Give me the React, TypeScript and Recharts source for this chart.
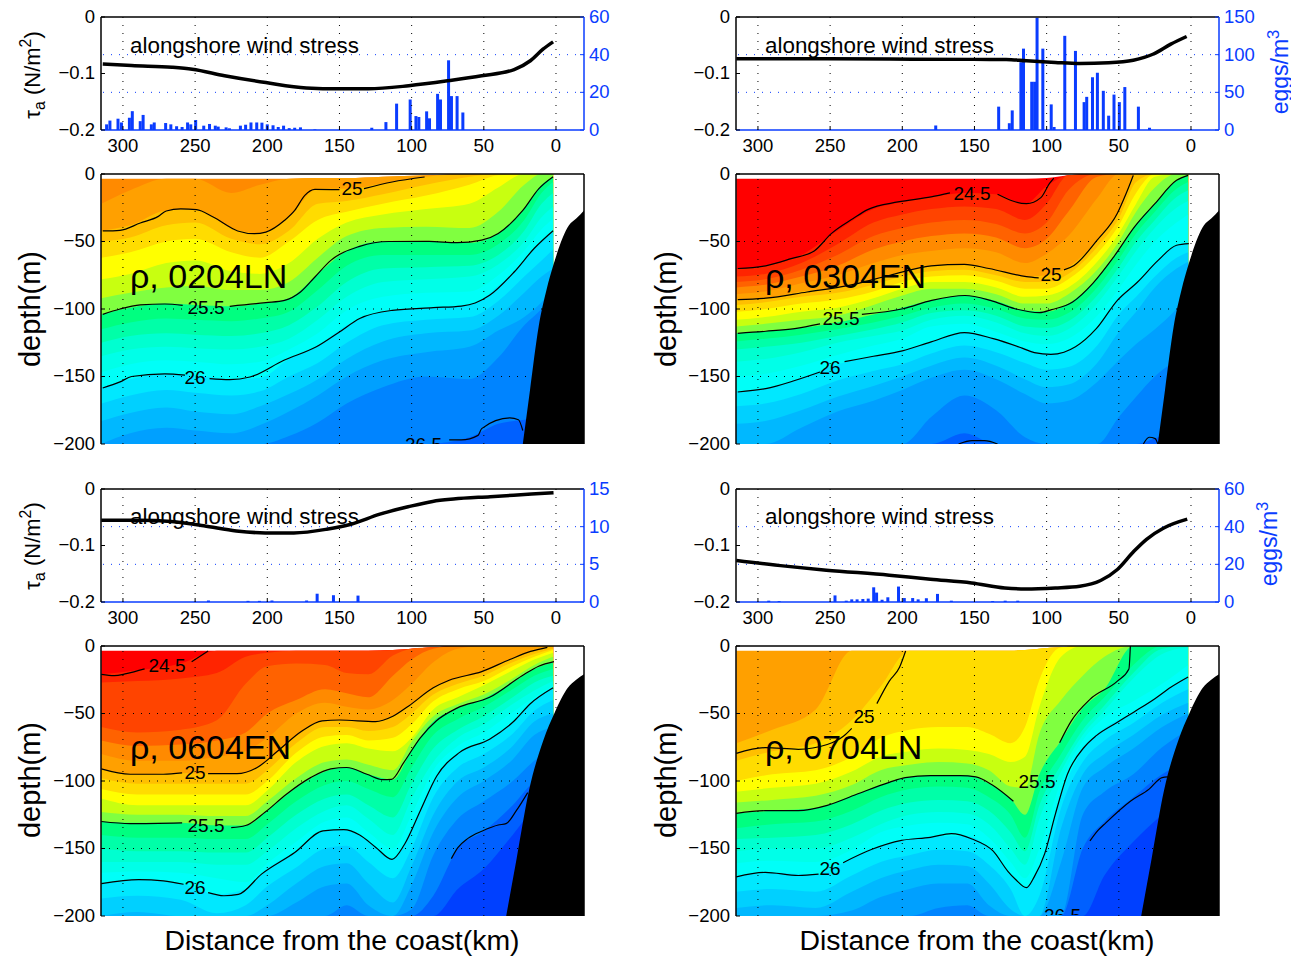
import { Area, Bar, ComposedChart, Line, ReferenceLine, XAxis, YAxis } from "recharts"

const FONT = '"Liberation Sans", Arial, sans-serif'
const BLUE = "#0a3cff"
const DOTS = "1 7"

const xDomain = [-19.4, 315.2]
const xTicks = [0, 50, 100, 150, 200, 250, 300]
const stressTicks = [-0.2, -0.1, 0]
const depthTicks = [-200, -150, -100, -50, 0]

// density level -> colour of the band below it
const bandLevels = [24.4, 24.5, 24.6, 24.7, 24.8, 24.9, 25, 25.1, 25.2, 25.3, 25.4, 25.5, 25.6, 25.7, 25.8, 25.9, 26, 26.1, 26.2, 26.3, 26.4, 26.5, 26.6]
const bandColors = ["#ff0000", "#ff2400", "#ff4400", "#ff6200", "#ff8a00", "#ffa000", "#ffbf00", "#ffdc00", "#ffff00", "#c8ff10", "#80ff40", "#00ff80", "#00ffa8", "#00ffd0", "#00ffe8", "#00fff8", "#00e8ff", "#00d0ff", "#00b8ff", "#00a0ff", "#0084ff", "#0060ff", "#0040ff"]

// bottom topography
const shelfKmNorth = [23, 18, 12, 6.6, 1.4, -9, -14, -19.4]
const shelfDepthNorth = [-200, -160, -113, -86, -66, -38, -33, -27]
const shelfKmSouth = [34.5, 27.2, 18.7, 8.8, 0.8, -8.2, -14, -19.4]
const shelfDepthSouth = [-200, -157, -107, -70, -49, -31, -25, -21]

// ---- 0204LN
const stressKm0204 = [314, 294, 266, 252, 229.6, 201, 173, 150, 130, 102, 74, 51.5, 29, 17.5, 9, 2]
const stress0204 = [-0.083, -0.086, -0.089, -0.0925, -0.104, -0.116, -0.1255, -0.127, -0.127, -0.1217, -0.1126, -0.104, -0.093, -0.077, -0.057, -0.044]
const eggKm0204 = [311.3, 309, 303.4, 301, 295.5, 293.5, 288, 286, 280.3, 278.3, 270.4, 266.8, 262.8, 259, 255.2, 253, 249.6, 244, 240, 236, 234, 228.5, 226.2, 218.6, 215, 211.3, 207.3, 203.7, 200, 196, 192.4, 188.7, 184.8, 181, 177, 167, 127.6, 117.8, 110.4, 101, 97, 95, 89.6, 87.6, 82, 80, 74.4, 72.4, 68.5, 64.5]
const eggs0204 = [3, 5, 6, 4, 6.5, 10, 4.7, 8, 3, 4, 3.7, 3, 2, 1.6, 4, 3, 5.3, 2.3, 3.2, 2.3, 1.8, 1.4, 0.9, 2.3, 2.8, 4, 4, 3.9, 3, 2.5, 1.6, 2.3, 1, 1.2, 1.4, 0.3, 1.2, 4.2, 14, 16.2, 7.4, 6.9, 9.9, 6.2, 19.2, 16.2, 37, 18, 18, 9.3]
const stations0204 = [315, 295, 270, 250, 225, 205, 185, 165, 145, 120, 90, 60, 40, 22, 10, 2]
const levels0204 = [24.8, 24.9, 25, 25.1, 25.2, 25.3, 25.4, 25.5, 25.6, 25.7, 25.8, 25.9, 26, 26.1, 26.2, 26.3, 26.4, 26.5]
const depths0204 = [
  [-3.5, -3.5, -3.5, -3.5, -3.5, -3.5, -3.5, -3, -3, -2, -1, 0, 0, 0, 0, 0],
  [-22, -12, -3.5, -3.5, -14, -8, -3.5, -3, -3, -2, -1, 0, 0, 0, 0, 0],
  [-42, -38, -27, -26, -40, -44, -32, -11, -11, -7, -2, 0, 0, 0, 0, 0],
  [-50, -47, -38, -36, -48, -52, -42, -22, -20, -15, -8, -2, 0, 0, 0, 0],
  [-62, -58, -50, -48, -58, -62, -50, -34, -28, -22, -16, -8, -1, 0, 0, 0],
  [-78, -74, -66, -64, -72, -74, -66, -48, -36, -30, -26, -22, -10, 0, 0, 0],
  [-92, -88, -84, -83, -86, -86, -80, -62, -46, -40, -39, -40, -28, -8, 0, 0],
  [-104, -99, -96, -97, -98, -96, -92, -74, -57, -50, -50, -51, -44, -26, -8, -2],
  [-115, -110, -107, -108, -109, -107, -102, -86, -68, -60, -60, -60, -52, -34, -14, -6],
  [-125, -120, -118, -119, -120, -118, -112, -98, -80, -70, -69, -68, -60, -42, -22, -14],
  [-135, -130, -128, -129, -130, -128, -122, -108, -91, -80, -78, -76, -67, -50, -32, -24],
  [-147, -141, -138, -139, -141, -139, -130, -118, -101, -91, -88, -87, -75, -57, -41, -33],
  [-158, -152, -148, -149, -152, -151, -137, -127, -112, -102, -99, -97, -83, -64, -50, -42],
  [-170, -164, -160, -162, -164, -161, -150, -140, -125, -112, -108, -106, -94, -76, -64, -56],
  [-183, -177, -173, -176, -178, -172, -163, -152, -137, -124, -118, -116, -105, -88, -76, -70],
  [-200, -192, -188, -190, -192, -186, -176, -164, -150, -138, -132, -128, -116, -106, -95, -85],
  [-200, -200, -200, -200, -200, -200, -194, -184, -170, -158, -150, -152, -136, -112, -100, -90],
  [-200, -200, -200, -200, -200, -200, -200, -200, -200, -200, -200, -195, -185, -182, -180, -180],
]
const contours0204 = [
  [[314, -42.2], [302, -41.7], [288, -36.3], [275.5, -31.4], [270, -27.4], [260, -25.9], [249, -26.4], [237.5, -31.9], [220.5, -42.2], [209, -44.2], [201, -43], [188, -34.3], [181, -27], [174, -15.8], [167, -11.4], [150, -11.6]],
  [[133, -10.9], [113.5, -5.9], [91, -2.2]],
  [[314, -104], [302, -100], [288, -97], [271, -96.3], [258.6, -97.3]],
  [[226, -98], [201, -95.3], [188, -93.6], [177, -87.4], [167, -76.3], [156, -64], [136, -53.6], [116, -50], [88, -49.9], [68.5, -50.9], [51.5, -49], [40, -44], [23, -27], [12, -11], [2, -2]],
  [[314, -158.5], [302, -154], [294, -150], [271, -148], [257, -149]],
  [[240, -151.6], [226, -152.3], [212, -150.4], [188.5, -138], [166, -128], [150, -117], [136, -107], [113.5, -101], [85, -99], [65.6, -97.8], [56, -95.6], [46, -89.9], [29, -72.6], [15, -55], [2, -42]],
  [[74, -197], [65.6, -197], [54, -193.6], [51.5, -188.6], [32, -180.7], [26, -182], [23, -190]],
]

// ---- 0304EN
const stressKm0304 = [315, 266, 209, 151, 128, 114, 94, 77, 57, 40, 26, 14, 3]
const stress0304 = [-0.0739, -0.0739, -0.0745, -0.075, -0.075, -0.0775, -0.0805, -0.0823, -0.081, -0.0765, -0.0655, -0.048, -0.0345]
const eggKm0304 = [176.8, 133.2, 125.8, 123.8, 117.8, 116, 110.3, 108.3, 106.6, 102.6, 96.8, 94.8, 87.4, 80, 74, 72.2, 68.2, 64.8, 60.7, 57, 53.3, 49.6, 45.8, 36.4, 28.7]
const eggs0304 = [6, 31, 9, 26, 90, 108, 64, 64, 149, 108, 34, 4, 125, 105, 37, 44, 70, 76, 52, 19, 47, 37, 57, 31, 3]
const stations0304 = [315, 295, 270, 245, 220, 200, 180, 157, 135, 115, 100, 85, 65, 50, 38, 25, 10, 2]
const levels0304 = [24.4, 24.5, 24.6, 24.7, 24.8, 24.9, 25, 25.1, 25.2, 25.3, 25.4, 25.5, 25.6, 25.7, 25.8, 25.9, 26, 26.1, 26.2, 26.3, 26.4, 26.5]
const depths0304 = [
  [-3.5, -3.5, -3.5, -3.5, -3.5, -3.5, -3.5, -3.5, -3.5, -3.5, -3, -1, 0, 0, 0, 0, 0, 0],
  [-70, -68, -60, -42, -26, -21, -17, -14, -15, -22, -9, -1, 0, 0, 0, 0, 0, 0],
  [-76, -74, -66, -52, -36, -30, -26, -24, -26, -34, -22, -1, 0, 0, 0, 0, 0, 0],
  [-80, -78, -71, -60, -46, -40, -36, -34, -37, -44, -36, -12, 0, 0, 0, 0, 0, 0],
  [-84, -82, -76, -68, -56, -50, -46, -44, -47, -55, -48, -28, -2, 0, 0, 0, 0, 0],
  [-89, -87, -81, -75, -66, -60, -57, -55, -58, -66, -59, -46, -18, 0, 0, 0, 0, 0],
  [-93, -92, -87, -84, -78, -72, -68, -67, -71, -76, -75, -69, -49, -28, 0, 0, 0, 0],
  [-97, -95, -91, -88, -82, -76, -72, -71, -75, -80, -80, -74, -54, -33, -6, 0, 0, 0],
  [-102, -100, -96, -93, -87, -80, -76, -75, -79, -85, -85, -78, -59, -38, -14, 0, 0, 0],
  [-108, -106, -102, -99, -92, -85, -80, -80, -84, -91, -90, -84, -65, -44, -22, -2, 0, 0],
  [-113, -111, -108, -105, -97, -90, -85, -85, -89, -96, -96, -89, -71, -50, -28, -10, 0, 0],
  [-118, -116.5, -114, -110, -104, -99, -93.6, -90, -94, -101, -102, -96, -77, -56, -37, -22, -5, -1],
  [-124, -122, -119, -115, -110, -105, -99, -96, -100, -107, -108, -103, -84, -63, -44, -28, -11, -6],
  [-130, -128, -125, -120, -115, -110, -103, -101, -105, -113, -114, -109, -90, -69, -50, -34, -17, -12],
  [-139, -137, -132, -125, -120, -116, -108, -105, -110, -118, -120, -115, -96, -75, -57, -40, -25, -20],
  [-150, -148, -142, -134, -127, -122, -113, -111, -117, -124, -126, -122, -105, -85, -67, -50, -36, -30],
  [-161, -159, -151, -141, -135, -131, -124, -117.5, -122, -129, -133, -131, -115, -92, -81, -66, -53, -51.5],
  [-172, -170, -163, -153, -146, -141, -133, -127, -132, -140, -145, -143, -127, -104, -91, -76, -62, -58],
  [-185, -183, -175, -165, -157, -150, -142, -136, -142, -152, -158, -156, -140, -117, -102, -84, -70, -65],
  [-200, -200, -188, -176, -168, -160, -151, -145, -152, -163, -170, -168, -154, -138, -126, -115, -100, -90],
  [-200, -200, -200, -200, -200, -200, -180, -164, -175, -195, -200, -200, -200, -180, -165, -150, -140, -140],
  [-200, -200, -200, -200, -200, -200, -200, -192, -200, -200, -200, -200, -200, -200, -200, -196, -190, -190],
]
const contours0304 = [
  [[314, -70], [294.6, -68], [277, -62.7], [261, -57], [249, -44], [234, -33], [224, -26.4], [203, -20.7], [180, -17], [167, -14]],
  [[134, -15], [114, -22], [104, -17.5], [98, -7], [95, -3]],
  [[314, -93], [294.6, -92], [266, -87.4], [237, -82.5], [208.6, -75], [180, -68], [157, -67], [140, -70], [114, -76], [105.5, -77]],
  [[88, -71], [81, -67.7], [65, -49], [51, -29], [45, -14.6], [40, -1]],
  [[314, -118], [294.6, -116.5], [274.5, -114.5], [257, -111]],
  [[228, -104], [199.6, -99.8], [179.6, -93.6], [156.6, -90], [139, -93.6], [122, -99.8], [105, -102.7], [96.6, -100.5], [82, -94.8], [68, -81], [53.6, -61.5], [39, -39], [25, -22], [10, -4.7], [2, -1]],
  [[314, -161.5], [294.6, -159], [274.5, -153], [257, -146.7]],
  [[240, -139], [220, -135], [200, -131], [180, -124.4], [157, -117.5], [137, -122], [117, -129], [108.5, -132.3], [97, -133.6], [88, -132], [80, -128], [65.6, -114.6], [51, -93.6], [37, -80], [22.8, -64], [10, -52.8], [1.5, -51.6]],
  [[161, -200], [151.7, -197.5], [143, -197.5], [134, -200]],
  [[33, -200], [29, -195], [24.8, -196], [23, -200]],
]

// ---- 0604EN
const stressKm0604 = [315, 289, 266.5, 244, 221.5, 201.4, 181.6, 158.9, 142, 122, 102.5, 85.5, 71, 45.6, 17, 1.7]
const stress0604 = [-0.0552, -0.0552, -0.0576, -0.065, -0.0742, -0.0777, -0.0777, -0.0712, -0.0623, -0.0445, -0.0315, -0.022, -0.0178, -0.0136, -0.009, -0.0065]
const eggKm0604 = [241, 213.6, 205.7, 197, 173, 165.7, 154.4, 137.4]
const eggs0604 = [0.2, 0.15, 0.15, 0.2, 0.2, 1.1, 0.9, 0.85]
const stations0604 = [315, 290, 260, 235, 215, 200, 180, 160, 145, 130, 113, 100, 85, 68, 50, 30, 15, 2]
const levels0604 = [24.4, 24.5, 24.6, 24.7, 24.8, 24.9, 25, 25.1, 25.2, 25.3, 25.4, 25.5, 25.6, 25.7, 25.8, 25.9, 26, 26.1, 26.2, 26.3, 26.4, 26.5, 26.6]
const depths0604 = [
  [-3.5, -3.5, -3.5, -3.5, -3.5, -3.5, -3.5, -3.5, -3.5, -3.5, -3, -2, -1, 0, 0, 0, 0, 0],
  [-21, -18, -13, -3.5, -3.5, -3.5, -3.5, -3.5, -3.5, -3.5, -3, -2, -1, 0, 0, 0, 0, 0],
  [-27, -26, -24, -20, -8, -5, -3.5, -3.5, -3.5, -3.5, -3, -2, -1, 0, 0, 0, 0, 0],
  [-60, -64, -62, -55, -28, -15, -13, -14, -20, -21, -7, -2, -1, 0, 0, 0, 0, 0],
  [-70, -74, -73, -70, -64, -50, -40, -32, -35, -38, -22, -10, -2, 0, 0, 0, 0, 0],
  [-80, -85, -85, -82, -78, -68, -50, -42, -45, -47, -40, -28, -12, -2, 0, 0, 0, 0],
  [-91, -95, -94, -94.6, -94, -85, -67, -55, -55, -56, -52, -43, -31, -24, -19, -9, -3, 0],
  [-98, -102, -102, -102, -102, -92, -72, -60, -60, -63, -60, -50, -36, -28, -22, -12, -6, -2],
  [-106, -110, -110, -110, -110, -100, -79, -67, -66, -70, -68, -58, -41, -32, -26, -15, -8, -3],
  [-113, -118, -118, -118, -118, -107, -86, -74, -72, -76, -78, -68, -47, -38, -29, -18, -10, -5],
  [-123, -125, -125, -126, -126, -115, -98, -86, -84, -88, -92, -71, -52, -43, -36, -24, -14, -8],
  [-130, -131, -131, -133, -133, -122, -105, -93, -90, -95, -99, -77, -56, -46, -39, -27, -17, -12],
  [-140, -142, -142, -143, -143, -132, -115, -103, -100, -106, -112, -90, -66, -54, -45, -32, -22, -17],
  [-150, -152, -152, -153, -153, -142, -125, -113, -110, -118, -127, -102, -76, -62, -52, -38, -27, -22],
  [-160, -160, -160, -162, -162, -152, -135, -122, -118, -128, -140, -113, -86, -68, -58, -43, -33, -26],
  [-168, -167, -168, -172, -175, -161, -145, -130, -127, -138, -150, -125, -92, -74, -64, -49, -38, -29],
  [-176, -173, -176, -184, -180, -165, -152, -137, -136, -145, -158, -135, -100, -80, -71, -56, -40, -31],
  [-187, -185, -188, -198, -192, -178, -164, -150, -148, -160, -172, -150, -112, -90, -80, -65, -48, -40],
  [-200, -197, -200, -200, -200, -192, -176, -163, -161, -176, -190, -163, -125, -100, -90, -74, -56, -50],
  [-200, -200, -200, -200, -200, -200, -190, -178, -176, -192, -200, -177, -138, -112, -100, -84, -66, -60],
  [-200, -200, -200, -200, -200, -200, -200, -200, -192, -200, -200, -195, -155, -128, -115, -100, -85, -75],
  [-200, -200, -200, -200, -200, -200, -200, -200, -200, -200, -200, -200, -185, -150, -137, -118, -100, -90],
  [-200, -200, -200, -200, -200, -200, -200, -200, -200, -200, -200, -200, -200, -180, -165, -140, -120, -110],
]
const contours0604 = [
  [[315, -21], [306, -22], [297.7, -20.5], [285, -17]],
  [[252.4, -11.6], [241, -3.7]],
  [[315, -91], [295, -95], [272, -95], [259, -94]],
  [[241, -94.6], [221, -94.6], [207, -90], [193, -78], [176, -63], [162, -55.5], [150, -54.8], [125, -56], [113, -52], [102, -44.4], [85, -31], [74, -25.4], [51.5, -19], [32, -10], [17.6, -4], [6, -1]],
  [[315, -130], [295, -131.6], [259, -131]],
  [[225, -134.6], [215, -133], [201.4, -123], [187, -110], [170, -97.5], [156, -91], [145, -90], [131, -95], [120, -99], [114, -98.8], [105.5, -86.4], [94, -68], [83, -55.5], [68.6, -46], [46, -38], [23.5, -22], [12, -15], [1.4, -11.6]],
  [[315, -176], [289, -173], [272, -174], [258, -176.5]],
  [[241, -182.7], [230, -185], [220, -184], [204, -169], [181, -153], [161.4, -137], [147, -136], [136, -140], [125, -149], [113.6, -158], [105, -147], [94, -122], [82.6, -96.3], [67, -79], [46, -69], [29, -55.6], [18, -43], [2, -31]],
  [[72.5, -157.5], [68, -149.4], [61, -142.5], [51, -137], [40, -132.6], [34.6, -131.6], [27.5, -122], [19.6, -108.6]],
]

// ---- 0704LN
const stressKm0704 = [315, 281, 252.6, 209, 180.5, 152, 129, 114.4, 94, 77, 62.6, 51, 39.4, 30.8, 19.2, 2.6]
const stress0704 = [-0.1264, -0.1365, -0.1436, -0.1525, -0.1597, -0.1662, -0.1751, -0.1769, -0.1751, -0.1721, -0.162, -0.1424, -0.1098, -0.089, -0.0694, -0.0534]
const eggKm0704 = [292.5, 285.3, 246.6, 238.8, 235, 231.3, 227.3, 223.6, 219.8, 217.8, 214, 210, 202.6, 198.6, 192.8, 189, 183.3, 175.6, 166, 137.4, 128.7, 120]
const eggs0704 = [0.7, 0.5, 3.5, 0.7, 1.4, 1.4, 1.6, 1.8, 7.8, 5, 1.2, 2.5, 8.2, 2.1, 2.1, 1.4, 2, 4.3, 0.7, 0.5, 0.7, 0.7]
const stations0704 = [315, 290, 260, 235, 215, 195, 175, 155, 140, 125, 115, 105, 90, 75, 60, 40, 20, 2]
const levels0704 = [24.9, 25, 25.1, 25.2, 25.3, 25.4, 25.5, 25.6, 25.7, 25.8, 25.9, 26, 26.1, 26.2, 26.3, 26.4, 26.5, 26.6]
const depths0704 = [
  [-3.5, -3.5, -3.5, -3.5, -3.5, -3.5, -3.5, -3.5, -3.5, -3.5, -3, -2, -1, 0, 0, 0, 0, 0],
  [-72, -62, -47, -3.5, -3.5, -3.5, -3.5, -3.5, -3.5, -3.5, -3, -2, -1, 0, 0, 0, 0, 0],
  [-85, -78, -72, -55, -30, -3.5, -3.5, -3.5, -3.5, -3.5, -3, -2, -1, 0, 0, 0, 0, 0],
  [-100, -95, -92, -82, -68, -62, -60, -60, -65, -72, -60, -25, -1, 0, 0, 0, 0, 0],
  [-108, -105, -102, -93, -82, -78, -76, -77, -80, -86, -82, -45, -8, 0, 0, 0, 0, 0],
  [-116, -114, -111, -103, -92, -88, -86, -87, -92, -104, -105, -65, -40, -22, -8, 0, 0, 0],
  [-124, -122, -120, -111, -103, -97, -96, -96, -102, -113, -125, -95, -70, -46, -32, 0, 0, 0],
  [-135, -132, -130, -122, -112, -106, -104, -105, -112, -125, -142, -108, -80, -55, -38, -14, 0, 0],
  [-143, -142, -140, -132, -122, -116, -114, -115, -122, -138, -152, -118, -88, -62, -44, -20, -2, 0],
  [-152, -150, -150, -142, -132, -125, -123, -124, -132, -150, -162, -128, -93, -66, -48, -24, -6, -1],
  [-161, -159, -160, -151, -138, -133, -131, -132, -142, -160, -172, -150, -100, -70, -53, -41, -28, -14],
  [-171, -168, -169, -157, -148, -143, -141, -141, -150, -170, -179, -163, -110, -77, -61, -49, -35, -23],
  [-182, -180, -182, -170, -160, -155, -151, -152, -162, -180, -200, -185, -120, -86, -70, -57, -42, -32],
  [-194, -192, -194, -182, -172, -166, -162, -163, -176, -195, -200, -200, -135, -95, -80, -66, -51, -42],
  [-200, -200, -200, -196, -186, -180, -176, -176, -192, -200, -200, -200, -160, -105, -90, -76, -60, -50],
  [-200, -200, -200, -200, -200, -200, -194, -192, -200, -200, -200, -200, -200, -125, -108, -95, -75, -62],
  [-200, -200, -200, -200, -200, -200, -200, -200, -200, -200, -200, -200, -200, -150, -130, -112, -95, -85],
  [-200, -200, -200, -200, -200, -200, -200, -200, -200, -200, -200, -200, -200, -200, -170, -145, -125, -110],
]
const contours0704 = [
  [[315, -79.5], [295, -75.3], [272, -76.5], [252, -73], [240.6, -66.7], [235, -61]],
  [[217.6, -42.7], [209, -26], [202, -16], [197.7, -3.7]],
  [[315, -124], [295, -122], [272, -122], [252, -118], [232, -110], [209, -101], [198, -97.5], [180.5, -96], [160, -96], [149, -97], [137.6, -103], [123, -115]],
  [[91, -71.6], [83, -55.6], [70, -39.5], [51, -26], [43, -17], [42, 0]],
  [[315, -171], [295, -167.7], [272, -170], [258, -169]],
  [[241, -160.5], [221, -150.6], [200.6, -144], [180.5, -141.7], [166, -139], [151.7, -143], [137, -152], [127, -166.7], [121.5, -173], [114, -179], [108.6, -171], [101.4, -154], [94, -124.7], [85.6, -95], [74, -75], [65.6, -66.4], [51, -56.5], [39.7, -49], [25, -39], [14, -30.6], [2, -23]],
  [[70, -144.4], [64.6, -136.8], [59, -131], [42, -115], [29, -106], [20, -97.5], [16, -97]],
]

const zip = (km: number[], values: number[], key: string) => km.map((x, i) => ({ km: x, [key]: values[i] }))
const MINUS = "\u2212"
const fmt = (v: number) => String(v).replace("-", MINUS)

function BottomTick({ x, y, payload, showLabel }: any) {
  return (
    <g>
      <line x1={x} x2={x} y1={y} y2={y - 4} stroke="#000" />
      {showLabel && (
        <text x={x} y={y + 17} textAnchor="middle" dominantBaseline="middle" fontSize={18.5} fontFamily={FONT} fill="#000">
          {payload.value}
        </text>
      )}
    </g>
  )
}

function LeftTick({ x, y, payload }: any) {
  return (
    <g>
      <line x1={x} x2={x + 4} y1={y} y2={y} stroke="#000" />
      <text x={x - 6} y={y + 1} textAnchor="end" dominantBaseline="middle" fontSize={18.5} fontFamily={FONT} fill="#000">
        {fmt(payload.value)}
      </text>
    </g>
  )
}

function RightTick({ x, y, payload }: any) {
  return (
    <g>
      <line x1={x} x2={x - 4} y1={y} y2={y} stroke={BLUE} />
      <text x={x + 5} y={y + 1} textAnchor="start" dominantBaseline="middle" fontSize={18.5} fontFamily={FONT} fill={BLUE}>
        {payload.value}
      </text>
    </g>
  )
}

// the bars sit closer than their own width, so Recharts would thin them out
function EggBar({ x, y, width, height }: any) {
  return <rect x={x + width / 2 - 1.5} y={y} width={3} height={height} fill={BLUE} />
}

function WindChart({ left, top, stressKm, stress, eggKm, eggs, eggTicks }: any) {
  const eggMax = eggTicks[eggTicks.length - 1]
  return (
    <div style={{ position: "absolute", left, top }}>
      <ComposedChart width={640} height={160} data={zip(eggKm, eggs, "eggs")} margin={{ top: 17, right: 16, bottom: 0, left: 41 }}>
        <XAxis
          type="number"
          dataKey="km"
          domain={xDomain}
          ticks={xTicks}
          reversed
          allowDataOverflow
          interval={0}
          tickSize={0}
          tickMargin={0}
          height={30}
          tickLine={false}
          axisLine={{ stroke: BLUE, strokeWidth: 1.5 }}
          tick={<BottomTick showLabel />}
        />
        <YAxis
          yAxisId="left"
          width={60}
          domain={[-0.2, 0]}
          ticks={stressTicks}
          allowDataOverflow
          interval={0}
          tickSize={0}
          tickMargin={0}
          tickLine={false}
          axisLine={{ stroke: "#000", strokeWidth: 1.5 }}
          tick={<LeftTick />}
        />
        <YAxis
          yAxisId="right"
          orientation="right"
          width={40}
          domain={[0, eggMax]}
          ticks={eggTicks}
          allowDataOverflow
          interval={0}
          tickSize={0}
          tickMargin={0}
          tickLine={false}
          axisLine={{ stroke: BLUE, strokeWidth: 1.5 }}
          tick={<RightTick />}
        />
        {xTicks.map((t) => (
          <ReferenceLine key={t} yAxisId="left" x={t} stroke="#000" strokeDasharray={DOTS} />
        ))}
        {eggTicks.slice(1, -1).map((t: number) => (
          <ReferenceLine key={t} yAxisId="right" y={t} stroke={BLUE} strokeDasharray={DOTS} />
        ))}
        <ReferenceLine yAxisId="left" y={0} stroke="#000" strokeWidth={1.5} />
        <Bar yAxisId="right" dataKey="eggs" fill={BLUE} barSize={3} shape={<EggBar />} isAnimationActive={false} />
        <Line
          yAxisId="left"
          data={zip(stressKm, stress, "stress")}
          dataKey="stress"
          type="monotone"
          stroke="#000"
          strokeWidth={3.5}
          dot={false}
          activeDot={false}
          isAnimationActive={false}
        />
      </ComposedChart>
    </div>
  )
}

function SectionChart({ left, top, stations, levels, depths, contours, shelfKm, shelfDepth }: any) {
  return (
    <div style={{ position: "absolute", left, top }}>
      <ComposedChart width={640} height={294} margin={{ top: 14, right: 56, bottom: 10, left: 41 }}>
        <XAxis
          type="number"
          dataKey="km"
          domain={xDomain}
          ticks={xTicks}
          reversed
          allowDataOverflow
          interval={0}
          tickSize={0}
          tickMargin={0}
          height={0}
          tickLine={false}
          axisLine={{ stroke: "#000", strokeWidth: 1.5 }}
          tick={<BottomTick />}
        />
        <YAxis
          width={60}
          domain={[-200, 0]}
          ticks={depthTicks}
          allowDataOverflow
          interval={0}
          tickSize={0}
          tickMargin={0}
          tickLine={false}
          axisLine={{ stroke: "#000", strokeWidth: 1.5 }}
          tick={<LeftTick />}
        />
        {depths.map((row: number[], i: number) => (
          <Area
            key={levels[i]}
            data={zip(stations, row, "depth")}
            dataKey="depth"
            type="monotone"
            baseValue={-200}
            fill={bandColors[bandLevels.indexOf(levels[i])]}
            fillOpacity={1}
            stroke="none"
            dot={false}
            activeDot={false}
            isAnimationActive={false}
          />
        ))}
        {contours.map((seg: number[][], i: number) => (
          <Line
            key={i}
            data={seg.map(([km, depth]) => ({ km, depth }))}
            dataKey="depth"
            type="monotone"
            stroke="#000"
            strokeWidth={1.2}
            dot={false}
            activeDot={false}
            isAnimationActive={false}
          />
        ))}
        <Area
          data={zip(shelfKm, shelfDepth, "depth")}
          dataKey="depth"
          type="monotone"
          baseValue={-200}
          fill="#000"
          fillOpacity={1}
          stroke="none"
          dot={false}
          activeDot={false}
          isAnimationActive={false}
        />
        {xTicks.map((t) => (
          <ReferenceLine key={t} x={t} stroke="#000" strokeDasharray={DOTS} />
        ))}
        {depthTicks.slice(1, -1).map((t) => (
          <ReferenceLine key={t} y={t} stroke="#000" strokeDasharray={DOTS} />
        ))}
        <ReferenceLine y={0} stroke="#000" strokeWidth={1.5} />
        <ReferenceLine x={xDomain[0]} stroke="#000" strokeWidth={1.5} />
      </ComposedChart>
    </div>
  )
}

// centred text at a page position
function Note({ x, y, size, color = "#000", rotate = 0, children }: any) {
  return (
    <div
      style={{
        position: "absolute",
        left: x,
        top: y,
        transform: `translate(-50%, -50%) rotate(${rotate}deg)`,
        fontFamily: FONT,
        fontSize: size,
        color,
        whiteSpace: "nowrap",
        lineHeight: 1,
      }}
    >
      {children}
    </div>
  )
}

function LeftNote({ x, y, size, children }: any) {
  return (
    <div style={{ position: "absolute", left: x, top: y, transform: "translateY(-50%)", fontFamily: FONT, fontSize: size, whiteSpace: "nowrap", lineHeight: 1 }}>
      {children}
    </div>
  )
}

// contour label cut off by the bottom of the section
function CutLabel({ x, bottom, children }: any) {
  return (
    <div style={{ position: "absolute", left: x, top: bottom - 9, height: 9, overflow: "hidden", fontFamily: FONT, fontSize: 19, lineHeight: "19px" }}>
      {children}
    </div>
  )
}

const Sup = ({ children }: any) => <span style={{ fontSize: "0.72em", verticalAlign: "0.55em" }}>{children}</span>
const Sub = ({ children }: any) => <span style={{ fontSize: "0.72em", verticalAlign: "-0.3em" }}>{children}</span>

const contourLabels = [
  ["25", 352, 188], ["25.5", 206, 307], ["26", 195, 377],
  ["24.5", 972, 193], ["25", 1051, 274], ["25.5", 841, 318], ["26", 830, 367],
  ["24.5", 167, 665], ["25", 195, 772], ["25.5", 206, 825], ["26", 195, 887],
  ["25", 864, 716], ["25.5", 1037, 781], ["26", 830, 868],
]

export default function App() {
  return (
    <div style={{ position: "absolute", left: 0, top: 0, width: 1291, height: 956, background: "#fff", overflow: "hidden" }}>
      <WindChart left={0} top={0} stressKm={stressKm0204} stress={stress0204} eggKm={eggKm0204} eggs={eggs0204} eggTicks={[0, 20, 40, 60]} />
      <WindChart left={635} top={0} stressKm={stressKm0304} stress={stress0304} eggKm={eggKm0304} eggs={eggs0304} eggTicks={[0, 50, 100, 150]} />
      <WindChart left={0} top={472} stressKm={stressKm0604} stress={stress0604} eggKm={eggKm0604} eggs={eggs0604} eggTicks={[0, 5, 10, 15]} />
      <WindChart left={635} top={472} stressKm={stressKm0704} stress={stress0704} eggKm={eggKm0704} eggs={eggs0704} eggTicks={[0, 20, 40, 60]} />

      <SectionChart left={0} top={160} stations={stations0204} levels={levels0204} depths={depths0204} contours={contours0204} shelfKm={shelfKmNorth} shelfDepth={shelfDepthNorth} />
      <SectionChart left={635} top={160} stations={stations0304} levels={levels0304} depths={depths0304} contours={contours0304} shelfKm={shelfKmNorth} shelfDepth={shelfDepthNorth} />
      <SectionChart left={0} top={632} stations={stations0604} levels={levels0604} depths={depths0604} contours={contours0604} shelfKm={shelfKmSouth} shelfDepth={shelfDepthSouth} />
      <SectionChart left={635} top={632} stations={stations0704} levels={levels0704} depths={depths0704} contours={contours0704} shelfKm={shelfKmSouth} shelfDepth={shelfDepthSouth} />

      {[[130, 46], [765, 46], [130, 517], [765, 517]].map(([x, y]) => (
        <LeftNote key={`${x}-${y}`} x={x} y={y} size={22.4}>alongshore wind stress</LeftNote>
      ))}
      <LeftNote x={130} y={276} size={34}>ρ, 0204LN</LeftNote>
      <LeftNote x={765} y={276} size={34}>ρ, 0304EN</LeftNote>
      <LeftNote x={130} y={747} size={34}>ρ, 0604EN</LeftNote>
      <LeftNote x={765} y={747} size={34}>ρ, 0704LN</LeftNote>

      {contourLabels.map(([text, x, y]) => (
        <Note key={`${text}-${x}-${y}`} x={x} y={y} size={19}>{text}</Note>
      ))}
      <CutLabel x={405} bottom={444}>26.5</CutLabel>
      <CutLabel x={1044} bottom={915}>26.5</CutLabel>

      {[[30, 309], [666, 309], [30, 780], [666, 780]].map(([x, y]) => (
        <Note key={`${x}-${y}`} x={x} y={y} size={29} rotate={-90}>depth(m)</Note>
      ))}
      <Note x={33} y={75} size={22} rotate={-90}>τ<Sub>a</Sub> (N/m<Sup>2</Sup>)</Note>
      <Note x={33} y={546} size={22} rotate={-90}>τ<Sub>a</Sub> (N/m<Sup>2</Sup>)</Note>
      <Note x={1279} y={72} size={23} color={BLUE} rotate={-90}>eggs/m<Sup>3</Sup></Note>
      <Note x={1268} y={544} size={23} color={BLUE} rotate={-90}>eggs/m<Sup>3</Sup></Note>

      <Note x={342} y={940} size={28.4}>Distance from the coast(km)</Note>
      <Note x={977} y={940} size={28.4}>Distance from the coast(km)</Note>
    </div>
  )
}
